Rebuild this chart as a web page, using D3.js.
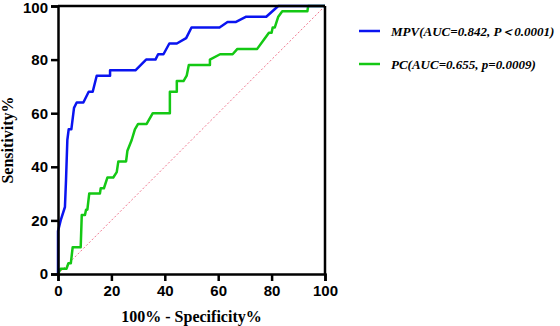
<!DOCTYPE html>
<html>
<head>
<meta charset="utf-8">
<script src="https://cdn.jsdelivr.net/npm/d3@7"></script>
<style>
  body { margin: 0; background: #fff; }
  svg { display: block; }
</style>
</head>
<body>
<svg width="560" height="326"></svg>
<script>
// ROC points (100% - specificity, sensitivity)
var mpvX = [0, 0, 1, 2.6, 3, 3.5, 4, 5, 6, 7, 9.5, 11.5, 13, 14.5, 19.5, 19.5, 29, 33, 36.5, 37.5, 39.5, 41.7, 44.5, 48, 50, 60.5, 63.5, 66.5, 70.5, 78, 82.5, 100];
var mpvY = [0, 16, 20, 25, 35, 50, 54, 54, 62, 64, 64, 68, 68, 74, 74, 76, 76, 80, 80, 82, 82, 86, 86, 88, 92, 92, 94, 94, 96, 96, 100, 100];

var pcX = [0, 1, 3.2, 3.9, 4.8, 5.5, 8.5, 8.9, 10.1, 10.5, 11, 11.7, 15.7, 16, 17.2, 18.5, 20.7, 22, 22.6, 25.5, 26, 27.6, 28.8, 30, 33.2, 35.5, 41.9, 41.9, 44.5, 44.5, 47, 48.2, 49, 56.9, 56.9, 60.7, 65.4, 67.2, 74.6, 77.5, 79, 80, 80.4, 81.2, 82.5, 84, 93.4, 93.7, 100];
var pcY = [0, 2, 2, 4, 4, 10, 10, 22, 22, 24, 24, 30, 30, 32, 32, 36, 36, 38, 42, 42, 46, 50, 54, 56, 56, 60, 60, 68, 68, 72, 72, 74, 78, 78, 80, 82, 82, 84, 84, 88, 90, 90, 92, 92, 96, 98, 98, 100, 100];

var ticks = [0, 20, 40, 60, 80, 100];
var seriesNames = ["MPV(AUC=0.842, P\uFF1C0.0001)", "PC(AUC=0.655, p=0.0009)"];
var seriesColors = ["#0a14f0", "#14c814"];

var svg = d3.select("svg"),
    margin = {top: 6, left: 58},
    w = 267,
    h = 268;

var g = svg.append("g").attr("transform", "translate(" + margin.left + "," + margin.top + ")");

var x = d3.scaleLinear().domain([0, 100]).range([0, w]),
    y = d3.scaleLinear().domain([0, 100]).range([h, 0]);

// chance line
g.append("line")
    .attr("x1", x(0)).attr("y1", y(0))
    .attr("x2", x(100)).attr("y2", y(100))
    .attr("stroke", "#f07890")
    .attr("stroke-width", 1)
    .attr("stroke-dasharray", "2,2");

var line = d3.line()
    .x(function(d) { return x(d[0]); })
    .y(function(d) { return y(d[1]); });

var series = [
  d3.zip(mpvX, mpvY),
  d3.zip(pcX, pcY)
];

// green under blue
[1, 0].forEach(function(i) {
  g.append("path")
      .datum(series[i])
      .attr("fill", "none")
      .attr("stroke", seriesColors[i])
      .attr("stroke-width", 2.5)
      .attr("stroke-linejoin", "round")
      .attr("d", line);
});

// frame
g.append("line").attr("x1", 0).attr("x2", w).attr("y1", 0).attr("y2", 0)
    .attr("stroke", "#000").attr("stroke-width", 2.5);
g.append("line").attr("x1", w).attr("x2", w).attr("y1", 0).attr("y2", h)
    .attr("stroke", "#000").attr("stroke-width", 2.5);

var xAxis = g.append("g")
    .attr("transform", "translate(0," + h + ")")
    .call(d3.axisBottom(x).tickValues(ticks).tickSize(7).tickPadding(4));

var yAxis = g.append("g")
    .call(d3.axisLeft(y).tickValues(ticks).tickSize(7).tickPadding(3));

[xAxis, yAxis].forEach(function(a) {
  a.select(".domain").attr("stroke", "#000").attr("stroke-width", 2.5);
  a.selectAll(".tick line").attr("stroke", "#000").attr("stroke-width", 2.5);
  a.selectAll(".tick text")
      .attr("fill", "#000")
      .style("font-family", "'Liberation Sans', Arial, sans-serif")
      .style("font-weight", "bold")
      .style("font-size", "15px");
});

// keep the top label inside the picture
yAxis.selectAll(".tick text")
    .filter(function(d) { return d === 100; })
    .attr("dy", "0.42em");

// axis titles
svg.append("text")
    .attr("x", margin.left + w / 2)
    .attr("y", 322)
    .attr("text-anchor", "middle")
    .style("font-family", "'Liberation Serif', 'Times New Roman', serif")
    .style("font-weight", "bold")
    .style("font-size", "16px")
    .text("100% - Specificity%");

svg.append("text")
    .attr("transform", "translate(13," + (margin.top + h / 2) + ") rotate(-90)")
    .attr("text-anchor", "middle")
    .style("font-family", "'Liberation Serif', 'Times New Roman', serif")
    .style("font-weight", "bold")
    .style("font-size", "16px")
    .text("Sensitivity%");

// legend
var legend = svg.append("g").selectAll("g")
    .data(seriesNames)
    .enter().append("g")
      .attr("transform", function(d, i) { return "translate(359," + (31 + i * 33) + ")"; });

legend.append("line")
    .attr("x1", 0).attr("x2", 21)
    .attr("stroke", function(d, i) { return seriesColors[i]; })
    .attr("stroke-width", 2.5);

legend.append("text")
    .attr("x", 32)
    .attr("dy", "0.35em")
    .style("font-family", "'Liberation Serif', 'Times New Roman', serif")
    .style("font-weight", "bold")
    .style("font-style", "italic")
    .style("font-size", "13px")
    .text(function(d) { return d; });
</script>
</body>
</html>
